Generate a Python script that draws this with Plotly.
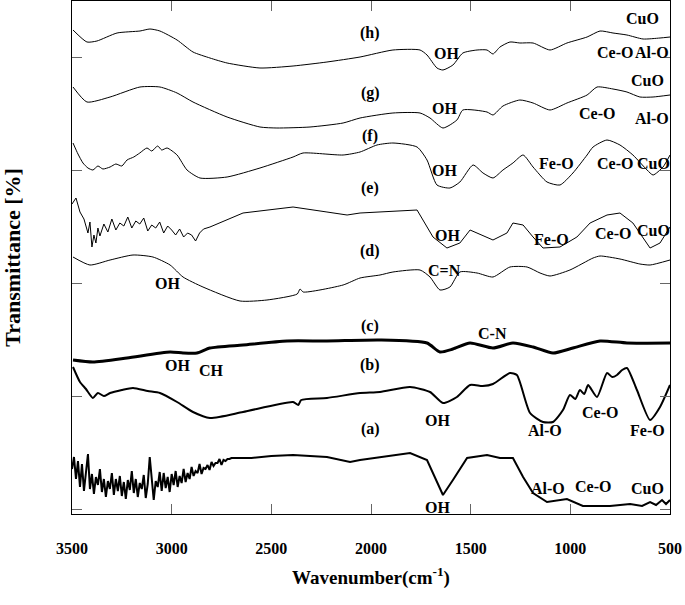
import plotly.graph_objects as go

# ---------------- data (wavenumber cm-1, offset transmittance a.u.) ----------------
wn_h = [3495, 3425, 3375, 3274, 3159, 3109, 3059, 2973, 2893, 2808, 2722, 2557, 2391, 2221, 2055,
        1890, 1754, 1719, 1669, 1639, 1589, 1539, 1468, 1418, 1388, 1353, 1303, 1253, 1187, 1102,
        1017, 916, 851, 786, 716, 635, 550, 500]
t_h = [479, 467, 468, 476, 478, 480, 478, 469, 457, 451, 446, 441, 443, 447, 452,
       459, 459, 454, 441, 439, 444, 456, 459, 459, 455, 462, 467, 466, 466, 459,
       466, 472, 478, 476, 474, 470, 471, 472]

wn_g = [3495, 3425, 3309, 3159, 3059, 2973, 2893, 2722, 2557, 2472, 2306, 2140, 2055, 1890, 1754,
        1704, 1639, 1569, 1539, 1418, 1388, 1338, 1253, 1187, 1102, 1017, 916, 866, 786, 716,
        651, 585, 500]
t_g = [422, 407, 412, 422, 422, 416, 407, 392, 382, 381, 382, 386, 391, 396, 396,
       391, 381, 389, 399, 397, 394, 403, 409, 406, 399, 406, 414, 422, 420, 417,
       412, 412, 414]

wn_f = [3495, 3470, 3445, 3420, 3395, 3370, 3345, 3309, 3280, 3250, 3224, 3190, 3160, 3124, 3100,
        3070, 3050, 3023, 2973, 2923, 2858, 2722, 2557, 2391, 2341, 2140, 2055, 1970, 1890, 1769,
        1719, 1669, 1604, 1554, 1488, 1438, 1388, 1338, 1288, 1237, 1187, 1117, 1052, 987, 916,
        886, 816, 751, 686, 615, 585, 535, 500]
t_f = [366, 355, 346, 341, 339, 343, 340, 342, 345, 343, 349, 352, 356, 361, 358,
       363, 359, 361, 354, 339, 331, 332, 341, 352, 356, 354, 357, 364, 366, 362,
       349, 324, 321, 327, 344, 336, 331, 339, 346, 354, 342, 327, 324, 336, 354,
       362, 369, 364, 354, 339, 334, 342, 354]

wn_e = [3500, 3480, 3460, 3440, 3420, 3410, 3400, 3390, 3380, 3370, 3360, 3340, 3320, 3300, 3280,
        3260, 3240, 3220, 3200, 3180, 3160, 3140, 3120, 3100, 3080, 3060, 3040, 3020, 3000, 2980,
        2960, 2940, 2920, 2900, 2880, 2860, 2840, 2808, 2642, 2391, 2221, 2120, 2055, 1955, 1769,
        1689, 1619, 1554, 1503, 1388, 1318, 1288, 1237, 1187, 1137, 1052, 967, 901, 816, 751,
        686, 600, 550, 500]
t_e = [305, 311, 297, 290, 276, 287, 262, 274, 266, 281, 273, 285, 277, 290, 279,
       286, 283, 292, 281, 288, 285, 291, 278, 284, 281, 287, 276, 283, 279, 274,
       280, 272, 276, 274, 268, 276, 280, 282, 296, 302, 297, 294, 296, 297, 299,
       272, 261, 266, 279, 269, 276, 286, 284, 272, 261, 262, 272, 286, 294, 296,
       286, 261, 266, 282]

wn_d = [3495, 3410, 3309, 3194, 3094, 3008, 2943, 2843, 2657, 2522, 2370, 2356, 2340, 2140, 2055,
        1955, 1890, 1754, 1704, 1654, 1604, 1554, 1468, 1388, 1303, 1217, 1152, 1102, 1002, 886,
        851, 751, 651, 600, 500]
t_d = [252, 244, 249, 254, 252, 244, 232, 222, 208, 209, 215, 220, 217, 224, 231,
       234, 237, 239, 232, 219, 222, 237, 236, 232, 242, 242, 236, 233, 239, 251,
       253, 250, 245, 244, 249]

wn_c = [3495, 3395, 3224, 3008, 2943, 2873, 2808, 2642, 2421, 2221, 1955, 1719, 1654, 1589, 1503,
        1388, 1288, 1187, 1087, 987, 851, 716, 500]
t_c = [149, 147, 151, 157, 156, 156, 161, 164, 168, 168, 169, 166, 157, 160, 166,
       161, 166, 162, 156, 161, 168, 166, 166]

wn_b = [3495, 3460, 3430, 3395, 3370, 3340, 3309, 3250, 3194, 3120, 3059, 2973, 2893, 2808, 2642,
        2391, 2365, 2350, 2221, 2055, 1955, 1804, 1704, 1639, 1569, 1503, 1440, 1388, 1303, 1268,
        1202, 1137, 1087, 1037, 1002, 975, 952, 930, 911, 866, 816, 790, 766, 740, 716,
        666, 600, 550, 500]
t_b = [142, 127, 120, 111, 116, 113, 116, 119, 121, 118, 116, 107, 97, 91, 97,
       107, 104, 109, 111, 116, 117, 122, 117, 106, 112, 124, 123, 125, 136, 134,
       96, 87, 87, 99, 114, 110, 119, 115, 124, 112, 136, 132, 134, 139, 141,
       119, 89, 102, 124]

wn_a = [3500, 3490, 3480, 3470, 3460, 3450, 3440, 3430, 3420, 3410, 3400, 3390, 3380, 3370, 3360,
        3350, 3340, 3330, 3320, 3310, 3300, 3290, 3280, 3270, 3260, 3250, 3240, 3230, 3220, 3210,
        3200, 3190, 3180, 3170, 3160, 3150, 3140, 3130, 3120, 3110, 3100, 3090, 3080, 3070, 3060,
        3050, 3040, 3030, 3020, 3010, 3000, 2990, 2980, 2970, 2960, 2950, 2940, 2930, 2920, 2910,
        2900, 2890, 2880, 2870, 2860, 2850, 2840, 2830, 2820, 2810, 2800, 2790, 2780, 2770, 2760,
        2750, 2740, 2730, 2720, 2710, 2700, 2600, 2500, 2391, 2221, 2105, 2055, 1804, 1719, 1669,
        1639, 1589, 1518, 1418, 1353, 1288, 1237, 1187, 1117, 1017, 937, 801, 700, 640, 600,
        570, 540, 520, 500]
t_a = [40, 52, 30, 48, 22, 45, 18, 38, 55, 20, 35, 15, 32, 24, 40,
       17, 30, 12, 28, 20, 36, 14, 30, 18, 33, 13, 27, 10, 29, 19,
       38, 16, 30, 12, 26, 20, 34, 11, 25, 52, 31, 9, 28, 22, 37,
       18, 36, 21, 32, 17, 35, 24, 38, 22, 33, 26, 40, 27, 36, 30,
       42, 33, 38, 36, 45, 35, 41, 40, 44, 39, 47, 43, 46, 46, 50,
       44, 49, 48, 50, 50, 51, 51, 53, 54, 52, 47, 49, 56, 49, 26,
       14, 29, 51, 54, 51, 51, 32, 16, 7, 10, 3, 3, 5, 3, 7,
       4, 9, 5, 9]

# (name, wavenumbers, values, line width, line shape)
series = [
    ("(h)", wn_h, t_h, 1.0, "spline"),
    ("(g)", wn_g, t_g, 1.0, "spline"),
    ("(f)", wn_f, t_f, 1.0, "spline"),
    ("(e)", wn_e, t_e, 1.0, "linear"),
    ("(d)", wn_d, t_d, 1.0, "spline"),
    ("(c)", wn_c, t_c, 3.0, "spline"),
    ("(b)", wn_b, t_b, 2.0, "spline"),
    ("(a)", wn_a, t_a, 2.0, "linear"),
]

# sample labels and peak assignments: (text, wavenumber, value)
sample_labels = [("(h)", 2005, 476), ("(g)", 2005, 416), ("(f)", 2005, 373), ("(e)", 2005, 321),
                 ("(d)", 2005, 258), ("(c)", 2005, 183), ("(b)", 2005, 144), ("(a)", 2005, 80)]
peak_labels = [
    ("OH", 1619, 456), ("CuO", 640, 491), ("Ce-O", 776, 457), ("Al-O", 590, 457),
    ("OH", 1629, 401), ("CuO", 615, 429), ("Ce-O", 866, 396), ("Al-O", 590, 391),
    ("OH", 1629, 339), ("Fe-O", 1067, 346), ("Ce-O", 776, 346), ("CuO", 585, 346),
    ("OH", 1614, 274), ("Fe-O", 1092, 270), ("Ce-O", 786, 276), ("CuO", 585, 279),
    ("OH", 3023, 226), ("C=N", 1629, 239),
    ("C-N", 1393, 176), ("OH", 2973, 144), ("CH", 2798, 139),
    ("OH", 1664, 89), ("Al-O", 1127, 79), ("Ce-O", 851, 97), ("Fe-O", 615, 79),
    ("OH", 1664, 2), ("Al-O", 1112, 21), ("Ce-O", 886, 23), ("CuO", 615, 21),
]

x_ticks = [3500, 3000, 2500, 2000, 1500, 1000, 500]
y_ticks = [0, 113, 226, 339, 452]

FONT = "Liberation Serif"

fig = go.Figure()
for name, xs, ys, w, shape in series:
    line = dict(color="black", width=w, shape=shape)
    if shape == "spline":
        line["smoothing"] = 0.6
    fig.add_trace(go.Scatter(x=xs, y=ys, mode="lines", name=name, line=line, showlegend=False))

for txt, x, y in sample_labels + peak_labels:
    fig.add_annotation(x=x, y=y, xref="x", yref="y", text=f"<b>{txt}</b>", showarrow=False,
                       font=dict(family=FONT, size=16, color="black"))

fig.update_layout(
    width=685, height=605,
    margin=dict(l=72, r=15, t=1, b=91, autoexpand=False),
    paper_bgcolor="white", plot_bgcolor="white",
    font=dict(family=FONT, color="black"),
)
fig.update_xaxes(
    range=[3500, 500], tickvals=x_ticks, ticktext=[str(v) for v in x_ticks],
    ticks="inside", ticklen=10, tickcolor="#666", tickwidth=1,
    showline=True, linecolor="black", linewidth=1, mirror="ticks",
    showgrid=False, zeroline=False, ticklabelstandoff=20, automargin=False,
    tickfont=dict(family=FONT, size=16, weight="bold", color="black"),
    title=dict(text="Wavenumber(cm<sup>-1</sup>)",
               font=dict(family=FONT, size=19, weight="bold", color="black"), standoff=14),
)
fig.update_yaxes(
    range=[-5, 508], tickvals=y_ticks, showticklabels=False,
    ticks="inside", ticklen=10, tickcolor="#666", tickwidth=1,
    showline=True, linecolor="black", linewidth=1, mirror="ticks",
    showgrid=False, zeroline=False, automargin=False,
    title=dict(text="Transmittance [%]",
               font=dict(family=FONT, size=22, weight="bold", color="black"), standoff=46),
)

fig.write_html("out.html", config={"displayModeBar": False},
               post_script="document.body.style.margin='0';")
